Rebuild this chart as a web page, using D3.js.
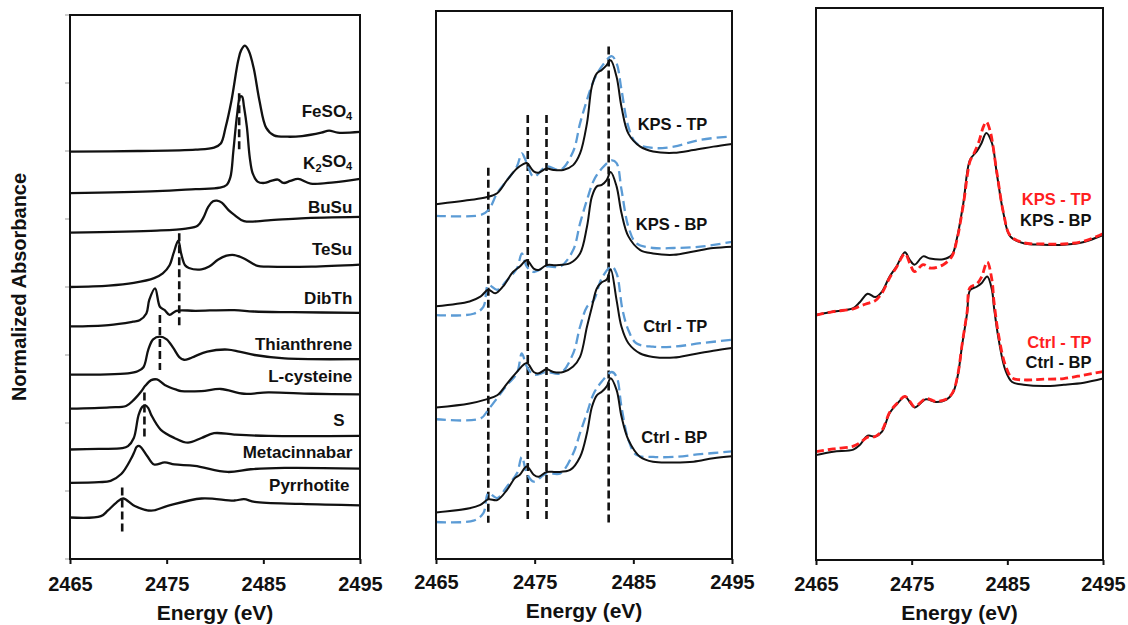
<!DOCTYPE html>
<html>
<head>
<meta charset="utf-8">
<script src="https://cdn.jsdelivr.net/npm/d3@7"></script>
<style>
  html, body { margin: 0; padding: 0; background: #fff; }
  svg { display: block; font-family: "Liberation Sans", Arial, Helvetica, sans-serif; font-weight: bold; }
</style>
</head>
<body>
<svg id="chart" width="1128" height="625"></svg>
<script>
// ---- shared axis values ----
const energyTicks = [2465, 2475, 2485, 2495];
const offsetTicks = [0, 1, 2, 3, 4, 5, 6, 7, 8];

// ---- reference compounds: [energy (eV), stacked normalized absorbance] ----
const refNames = ["FeSO4", "K2SO4", "BuSu", "TeSu", "DibTh", "Thianthrene", "L-cysteine", "S", "Metacinnabar", "Pyrrhotite"];

const feso4 = [[2465,5.99],[2472,6.0],[2478,6.02],[2479.9,6.05],[2480.6,6.11],[2481.1,6.35],[2481.7,6.74],[2482.4,7.33],[2482.7,7.48],[2483.1,7.55],[2483.5,7.47],[2484.0,7.22],[2484.6,6.74],[2485.3,6.34],[2486.1,6.23],[2487.5,6.21],[2489,6.22],[2491,6.27],[2491.8,6.30],[2492.7,6.27],[2495,6.28]];
const k2so4 = [[2465,5.38],[2474,5.41],[2478,5.44],[2480.5,5.46],[2481.2,5.50],[2481.6,5.62],[2481.9,6.0],[2482.3,6.55],[2482.6,6.80],[2482.8,6.80],[2483.0,6.65],[2483.3,6.35],[2483.6,5.9],[2483.9,5.67],[2484.4,5.55],[2485.1,5.53],[2485.8,5.56],[2486.5,5.58],[2487.1,5.53],[2487.8,5.56],[2488.6,5.59],[2489.9,5.52],[2492.3,5.54],[2495,5.59]];
const busu = [[2465,4.80],[2474,4.83],[2477,4.86],[2478.2,4.90],[2478.8,5.02],[2479.3,5.18],[2479.8,5.26],[2480.2,5.27],[2480.7,5.24],[2481.4,5.13],[2482.0,5.06],[2483.0,4.97],[2485.5,4.98],[2488.9,5.01],[2495,5.03]];
const tesu = [[2465,4.00],[2469,4.02],[2471.6,4.06],[2473.7,4.13],[2474.6,4.20],[2475.3,4.32],[2475.7,4.49],[2476.2,4.68],[2476.5,4.49],[2476.9,4.32],[2477.3,4.28],[2478.6,4.26],[2479.4,4.30],[2480.3,4.40],[2481.2,4.46],[2482.0,4.47],[2483.0,4.42],[2484.4,4.31],[2485.5,4.30],[2490,4.30],[2495,4.33]];
const dibth = [[2465,3.42],[2469,3.44],[2471.5,3.49],[2472.2,3.51],[2472.9,3.61],[2473.2,3.81],[2473.8,3.98],[2474.3,3.71],[2474.8,3.66],[2475.3,3.59],[2476.0,3.65],[2478,3.65],[2482,3.66],[2484,3.64],[2488,3.63],[2495,3.62]];
const thianthrene = [[2465,2.71],[2471,2.73],[2472.0,2.76],[2472.6,2.82],[2473.1,3.08],[2473.6,3.23],[2474.3,3.27],[2475.0,3.23],[2475.7,3.10],[2476.3,2.97],[2476.8,2.93],[2477.4,2.95],[2477.9,2.98],[2479.2,3.05],[2481.3,3.08],[2482.5,3.05],[2484.1,3.00],[2487.2,2.95],[2495,2.94]];
const lcysteine = [[2465,2.21],[2469.1,2.23],[2470.8,2.25],[2471.6,2.34],[2472.4,2.47],[2472.8,2.55],[2473.4,2.63],[2474.0,2.64],[2474.8,2.56],[2476.0,2.49],[2476.5,2.47],[2478.6,2.47],[2480.6,2.50],[2483.0,2.43],[2485.5,2.45],[2490,2.43],[2495,2.42]];
const sulfur = [[2465,1.61],[2468,1.62],[2470.4,1.63],[2471.0,1.66],[2471.6,1.78],[2472.1,2.12],[2472.5,2.24],[2472.8,2.26],[2473.1,2.22],[2473.4,2.12],[2474.4,1.90],[2475.8,1.78],[2477.2,1.71],[2478.6,1.78],[2479.9,1.85],[2482.0,1.83],[2485.5,1.81],[2495,1.81]];
const metacinnabar = [[2465,1.12],[2468,1.13],[2469.2,1.15],[2470.3,1.25],[2471.3,1.47],[2471.7,1.59],[2471.9,1.65],[2472.2,1.66],[2473.0,1.51],[2473.7,1.39],[2474.8,1.42],[2475.8,1.39],[2477.9,1.37],[2481.3,1.28],[2483.7,1.32],[2487.2,1.34],[2495,1.33]];
const pyrrhotite = [[2465,0.61],[2468.2,0.63],[2468.9,0.71],[2469.8,0.83],[2470.5,0.89],[2471.7,0.78],[2473.4,0.71],[2475.1,0.78],[2478.6,0.89],[2482.0,0.86],[2483.0,0.88],[2484.1,0.84],[2488.9,0.81],[2495,0.79]];

// feature markers for the references: [energy, top, bottom]
const refMarkers = [[2482.5,6.85,5.99],[2476.3,4.79,3.40],[2474.3,3.59,2.78],[2472.7,2.45,1.80],[2470.4,1.05,0.40]];
// label anchors (right edge energy, baseline offset)
const refLabelE = [2494.2, 2494.2, 2494.2, 2494.2, 2494.2, 2494.2, 2494.2, 2493.4, 2494.2, 2493.9];
const refLabelV = [6.50, 5.74, 5.09, 4.47, 3.75, 3.07, 2.60, 1.96, 1.49, 1.00];

// ---- soil samples (solid) and their fits (dashed) ----
const sampleNames = ["KPS - TP", "KPS - BP", "Ctrl - TP", "Ctrl - BP"];

const kpsTP = [[2465,5.18],[2468.4,5.24],[2470.1,5.28],[2471.2,5.34],[2472.2,5.53],[2473.2,5.70],[2473.8,5.76],[2474.2,5.78],[2474.9,5.66],[2475.4,5.64],[2476.2,5.70],[2476.9,5.68],[2477.9,5.68],[2478.9,5.75],[2479.6,5.92],[2480.3,6.36],[2480.8,6.90],[2481.3,7.09],[2481.8,7.14],[2482.3,7.21],[2482.7,7.28],[2483.3,7.04],[2483.8,6.60],[2484.5,6.21],[2485.7,6.02],[2487.0,5.95],[2489.1,5.93],[2491.1,5.97],[2493.1,6.02],[2495,6.06]];
const kpsTPfit = [[2465,5.01],[2469.5,5.02],[2470.3,5.09],[2471.2,5.34],[2472.2,5.53],[2473.2,5.73],[2473.7,5.92],[2474.2,5.78],[2474.9,5.58],[2476.2,5.73],[2477.6,5.68],[2478.9,5.95],[2479.6,6.36],[2480.3,6.70],[2481.0,6.99],[2481.8,7.19],[2482.8,7.34],[2483.3,7.24],[2483.8,6.85],[2484.5,6.31],[2485.3,6.07],[2487.0,6.00],[2489.1,6.02],[2491.8,6.12],[2495,6.17]];
const kpsBP = [[2465,3.69],[2468.4,3.76],[2469.5,3.83],[2470.3,3.93],[2471.0,3.88],[2471.8,3.98],[2472.8,4.19],[2473.5,4.27],[2474.2,4.36],[2474.9,4.24],[2475.4,4.22],[2476.2,4.29],[2477.2,4.29],[2478.6,4.32],[2479.6,4.46],[2480.3,4.85],[2480.8,5.29],[2481.3,5.44],[2481.8,5.46],[2482.3,5.53],[2482.7,5.65],[2483.3,5.44],[2483.8,5.05],[2484.5,4.71],[2485.7,4.51],[2487.0,4.46],[2489.1,4.44],[2491.1,4.49],[2493.1,4.54],[2495,4.56]];
const kpsBPfit = [[2465,3.56],[2468.8,3.58],[2469.8,3.68],[2470.3,4.00],[2471.2,3.93],[2472.2,4.07],[2473.2,4.24],[2473.7,4.46],[2474.2,4.27],[2474.9,4.19],[2476.2,4.27],[2477.6,4.27],[2478.9,4.51],[2479.6,4.90],[2480.3,5.24],[2481.0,5.53],[2481.8,5.70],[2482.8,5.82],[2483.3,5.78],[2483.8,5.39],[2484.5,4.85],[2485.3,4.61],[2487.0,4.54],[2489.1,4.54],[2491.8,4.56],[2495,4.63]];
const ctrlTP = [[2465,2.21],[2468.4,2.27],[2470.1,2.33],[2471.2,2.39],[2472.2,2.56],[2473.2,2.73],[2474.2,2.86],[2474.9,2.73],[2475.4,2.71],[2476.2,2.77],[2476.9,2.73],[2477.9,2.73],[2478.9,2.81],[2479.6,2.95],[2480.3,3.39],[2480.8,3.68],[2481.3,3.95],[2481.8,4.04],[2482.3,4.08],[2482.7,4.23],[2483.3,3.78],[2483.8,3.39],[2484.5,3.15],[2485.7,3.00],[2487.0,2.95],[2489.1,2.94],[2491.1,2.99],[2493.1,3.04],[2495,3.08]];
const ctrlTPfit = [[2465,2.04],[2469.5,2.05],[2470.3,2.18],[2471.2,2.35],[2472.2,2.54],[2473.2,2.71],[2473.7,3.00],[2474.2,2.81],[2474.9,2.69],[2476.2,2.73],[2477.6,2.71],[2478.9,3.00],[2479.6,3.39],[2480.3,3.68],[2481.0,3.78],[2481.8,4.10],[2482.8,4.27],[2483.3,4.17],[2483.9,3.64],[2484.5,3.34],[2485.3,3.15],[2487.0,3.10],[2489.1,3.10],[2491.8,3.15],[2495,3.20]];
const ctrlBP = [[2465,0.68],[2468.4,0.74],[2469.5,0.79],[2470.3,0.87],[2471.2,0.86],[2472.2,1.01],[2473.0,1.18],[2473.5,1.23],[2474.2,1.35],[2474.9,1.23],[2475.4,1.20],[2476.2,1.27],[2477.2,1.27],[2478.6,1.30],[2479.6,1.49],[2480.3,1.84],[2480.8,2.22],[2481.3,2.39],[2481.8,2.44],[2482.3,2.52],[2482.7,2.64],[2483.3,2.47],[2483.8,2.08],[2484.5,1.74],[2485.7,1.49],[2487.0,1.42],[2489.1,1.41],[2491.1,1.42],[2493.1,1.47],[2495,1.50]];
const ctrlBPfit = [[2465,0.54],[2468.8,0.56],[2469.8,0.67],[2470.3,0.96],[2471.2,0.89],[2472.2,1.06],[2473.2,1.25],[2473.7,1.49],[2474.2,1.25],[2474.9,1.13],[2476.2,1.25],[2477.6,1.25],[2478.9,1.54],[2479.6,1.84],[2480.3,2.13],[2481.0,2.42],[2481.8,2.59],[2482.8,2.73],[2483.3,2.66],[2483.8,2.22],[2484.5,1.74],[2485.3,1.52],[2487.0,1.49],[2489.1,1.49],[2491.8,1.53],[2495,1.57]];

const sampleMarkerE = [2470.3, 2474.3, 2476.2, 2482.5];
const sampleMarkerTop = [5.71, 6.48, 6.48, 7.48];
const sampleMarkerBottom = 0.53;
const sampleLabelV = [6.26, 4.80, 3.32, 1.70];
const sampleLabelE = 2492.5;

// ---- top vs bottom position comparison ----
const kpsBPpair = [[2465,3.55],[2466.8,3.60],[2468.9,3.65],[2469.6,3.74],[2470.4,3.86],[2471.2,3.81],[2471.9,3.89],[2472.7,4.11],[2473.4,4.25],[2474.3,4.46],[2474.8,4.35],[2475.3,4.28],[2476.2,4.40],[2476.9,4.37],[2478.3,4.36],[2479.2,4.42],[2479.7,4.64],[2480.4,5.17],[2481.1,5.80],[2481.8,5.92],[2482.3,6.04],[2482.8,6.19],[2483.4,6.04],[2483.9,5.60],[2484.6,5.02],[2485.3,4.69],[2486.7,4.59],[2488.8,4.57],[2490.9,4.57],[2493.0,4.61],[2495,4.71]];
const kpsTPpair = [[2465,3.55],[2466.8,3.60],[2468.9,3.64],[2469.6,3.68],[2470.4,3.72],[2471.2,3.76],[2471.9,3.87],[2472.7,4.09],[2473.4,4.24],[2474.3,4.44],[2474.8,4.30],[2475.3,4.18],[2476.2,4.28],[2477.0,4.23],[2478.3,4.28],[2479.2,4.40],[2479.7,4.62],[2480.4,5.15],[2481.1,5.78],[2481.5,5.89],[2482.0,6.05],[2482.5,6.28],[2482.8,6.35],[2483.2,6.22],[2483.9,5.62],[2484.6,5.03],[2485.3,4.70],[2486.7,4.60],[2488.8,4.58],[2490.9,4.58],[2493.0,4.62],[2495,4.73]];
const ctrlBPpair = [[2465,1.52],[2466.8,1.57],[2468.9,1.60],[2469.6,1.67],[2470.4,1.80],[2471.2,1.79],[2471.9,1.86],[2472.7,2.13],[2473.4,2.25],[2474.3,2.37],[2474.8,2.29],[2475.3,2.21],[2476.5,2.33],[2477.5,2.29],[2478.6,2.32],[2479.3,2.42],[2479.8,2.66],[2480.3,3.14],[2480.8,3.58],[2481.1,3.91],[2481.8,3.96],[2482.3,4.01],[2482.9,4.11],[2483.4,3.91],[2483.6,3.67],[2484.1,3.19],[2484.8,2.75],[2485.5,2.58],[2486.7,2.54],[2488.8,2.52],[2490.9,2.54],[2493.0,2.57],[2495,2.63]];
const ctrlTPpair = [[2465,1.57],[2466.8,1.61],[2468.9,1.65],[2469.6,1.70],[2470.4,1.78],[2471.2,1.79],[2471.9,1.88],[2472.7,2.14],[2473.4,2.26],[2474.3,2.37],[2474.8,2.30],[2475.3,2.22],[2476.5,2.34],[2477.5,2.30],[2478.6,2.33],[2479.3,2.43],[2479.8,2.67],[2480.3,3.15],[2480.8,3.60],[2481.1,3.95],[2481.8,4.00],[2482.3,4.10],[2482.9,4.32],[2483.4,4.05],[2483.6,3.75],[2484.1,3.25],[2484.8,2.82],[2485.5,2.64],[2486.7,2.61],[2488.8,2.62],[2490.9,2.63],[2493.0,2.68],[2495,2.73]];

const pairLabels = [["KPS - TP", "KPS - BP"], ["Ctrl - TP", "Ctrl - BP"]];
const pairLabelV = [[5.14, 4.84], [3.07, 2.78]];
const pairLabelE = 2493.8;

// ---- drawing ----
const svg = d3.select("#chart");
const RED = "#ff1f1f";
const BLUE = "#5b9bd5";

function makePanel(box) {
  const x = d3.scaleLinear().domain([2465, 2495]).range([box.left, box.right]);
  const y = d3.scaleLinear().domain([0, 8]).range([box.bottom, box.top]);
  const g = svg.append("g");
  const line = d3.line().x(d => x(d[0])).y(d => y(d[1])).curve(d3.curveCatmullRom.alpha(0.5));

  const axis = d3.axisBottom(x).tickValues(energyTicks).tickFormat(d3.format("d"))
    .tickSizeInner(5).tickSizeOuter(0).tickPadding(box.tickPad);
  const ax = g.append("g").attr("transform", `translate(0,${box.bottom})`).call(axis);
  ax.select(".domain").remove();
  ax.selectAll(".tick line").attr("stroke", "#111").attr("stroke-width", 2);
  ax.selectAll(".tick text").attr("font-size", 20).attr("font-weight", "bold")
    .attr("font-family", '"Liberation Sans", Arial, sans-serif').attr("fill", "#111");

  g.append("text").attr("x", (box.left + box.right) / 2).attr("y", box.titleY)
    .attr("text-anchor", "middle").attr("font-size", 21).attr("fill", "#111").text("Energy (eV)");

  return { g, x, y, line };
}

function frame(p, box) {
  p.g.append("rect").attr("x", box.left).attr("y", box.top)
    .attr("width", box.right - box.left).attr("height", box.bottom - box.top)
    .attr("fill", "none").attr("stroke", "#111").attr("stroke-width", 2);
}

function chemLabel(sel, name) {
  // digits in formulas drawn as subscripts
  const parts = name.match(/(\d+|\D+)/g);
  parts.forEach((s, i) => {
    const isSub = /^\d+$/.test(s) && i > 0;
    const t = sel.append("tspan").text(s);
    if (isSub) t.attr("font-size", "0.65em").attr("dy", "0.3em");
    else if (i > 0) t.attr("dy", "-0.3em");
  });
}

// Panel (a): reference spectra
const boxA = { left: 70, right: 360, top: 15, bottom: 559, tickPad: 13, titleY: 620 };
const pA = makePanel(boxA);
const refSeries = [feso4, k2so4, busu, tesu, dibth, thianthrene, lcysteine, sulfur, metacinnabar, pyrrhotite];

pA.g.append("g").selectAll("line").data(offsetTicks).join("line")
  .attr("x1", boxA.left - 5).attr("x2", boxA.left)
  .attr("y1", d => pA.y(d)).attr("y2", d => pA.y(d))
  .attr("stroke", "#bdbdbd").attr("stroke-width", 1.5);

pA.g.append("g").selectAll("path").data(refSeries).join("path")
  .attr("d", pA.line).attr("fill", "none").attr("stroke", "#111").attr("stroke-width", 2.3);

pA.g.append("g").selectAll("line").data(refMarkers).join("line")
  .attr("x1", d => pA.x(d[0])).attr("x2", d => pA.x(d[0]))
  .attr("y1", d => pA.y(d[1])).attr("y2", d => pA.y(d[2]))
  .attr("stroke", "#111").attr("stroke-width", 2.6).attr("stroke-dasharray", "8,4");

pA.g.append("g").selectAll("text").data(refNames).join("text")
  .attr("x", (d, i) => pA.x(refLabelE[i])).attr("y", (d, i) => pA.y(refLabelV[i]))
  .attr("text-anchor", "end").attr("font-size", 17).attr("fill", "#111")
  .each(function (d) { chemLabel(d3.select(this), d); });

frame(pA, boxA);

svg.append("text").attr("transform", "translate(26,287) rotate(-90)")
  .attr("text-anchor", "middle").attr("font-size", 20).attr("fill", "#111")
  .text("Normalized Absorbance");

// Panel (b): samples with fits
const boxB = { left: 436, right: 732, top: 11, bottom: 559, tickPad: 11, titleY: 618 };
const pB = makePanel(boxB);
const fitSeries = [kpsTPfit, kpsBPfit, ctrlTPfit, ctrlBPfit];
const sampleSeries = [kpsTP, kpsBP, ctrlTP, ctrlBP];

pB.g.append("g").selectAll("line").data(sampleMarkerE).join("line")
  .attr("x1", d => pB.x(d)).attr("x2", d => pB.x(d))
  .attr("y1", (d, i) => pB.y(sampleMarkerTop[i])).attr("y2", pB.y(sampleMarkerBottom))
  .attr("stroke", "#111").attr("stroke-width", 2.6).attr("stroke-dasharray", "8,4");

pB.g.append("g").selectAll("path").data(fitSeries).join("path")
  .attr("d", pB.line).attr("fill", "none").attr("stroke", BLUE).attr("stroke-width", 2.3)
  .attr("stroke-dasharray", "10,5");
pB.g.append("g").selectAll("path").data(sampleSeries).join("path")
  .attr("d", pB.line).attr("fill", "none").attr("stroke", "#111").attr("stroke-width", 2);

pB.g.append("g").selectAll("text").data(sampleNames).join("text")
  .attr("x", pB.x(sampleLabelE)).attr("y", (d, i) => pB.y(sampleLabelV[i]))
  .attr("text-anchor", "end").attr("font-size", 16.5).attr("fill", "#111").text(d => d);

frame(pB, boxB);

// Panel (c): top vs bottom
const boxC = { left: 816, right: 1103, top: 8, bottom: 560, tickPad: 12, titleY: 620 };
const pC = makePanel(boxC);
const bpSeries = [kpsBPpair, ctrlBPpair];
const tpSeries = [kpsTPpair, ctrlTPpair];

pC.g.append("g").selectAll("path").data(bpSeries).join("path")
  .attr("d", pC.line).attr("fill", "none").attr("stroke", "#111").attr("stroke-width", 2);
pC.g.append("g").selectAll("path").data(tpSeries).join("path")
  .attr("d", pC.line).attr("fill", "none").attr("stroke", RED).attr("stroke-width", 2.8)
  .attr("stroke-dasharray", "8,4");

pairLabels.forEach((pair, k) => {
  pC.g.append("text").attr("x", pC.x(pairLabelE)).attr("y", pC.y(pairLabelV[k][0]))
    .attr("text-anchor", "end").attr("font-size", 16.5).attr("fill", RED).text(pair[0]);
  pC.g.append("text").attr("x", pC.x(pairLabelE)).attr("y", pC.y(pairLabelV[k][1]))
    .attr("text-anchor", "end").attr("font-size", 16.5).attr("fill", "#111").text(pair[1]);
});

frame(pC, boxC);
</script>
</body>
</html>
